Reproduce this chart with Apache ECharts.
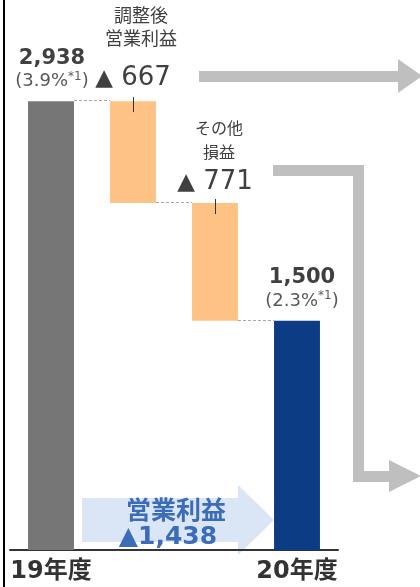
<!DOCTYPE html>
<html><head><meta charset="utf-8">
<script src="https://cdn.jsdelivr.net/npm/echarts@6/dist/echarts.min.js"></script>
<style>html,body{margin:0;padding:0;background:#fff}#c{width:420px;height:587px}</style>
</head><body><div id="c"></div>
<script>
// ---- data ----
const categories = ['19年度', '調整後営業利益', 'その他損益', '20年度'];
const axisLabels = ['19年度', '', '', '20年度'];
const startValue = 2938;
const stepChanges = [-667, -771];
const endValue = 1500;
const startMargin = '3.9%';
const endMargin = '2.3%';
const stepTitles = [['調整後', '営業利益'], ['その他', '損益']];
const summaryTitle = '営業利益';
const summaryChange = -1438;

// ---- derived waterfall ----
const levels = [startValue];
stepChanges.forEach(c => levels.push(levels[levels.length - 1] + c));
const baseData = [0];
const barData = [startValue];
stepChanges.forEach((c, i) => { baseData.push(levels[i + 1]); barData.push(-c); });
baseData.push(0); barData.push(endValue);
const tops = [startValue].concat(levels.slice(0, stepChanges.length)).concat([endValue]);
const barColors = ['#767676', '#FFC285', '#FFC285', '#0C3C84'];

const fmt = v => Math.abs(v).toLocaleString('en-US');
const LAT = "'DejaVu Sans', 'Noto Sans CJK JP', sans-serif";
const CJK = "'Noto Sans CJK JP', sans-serif";

const chart = echarts.init(document.getElementById('c'), null, {renderer: 'canvas'});
chart.setOption({
  animation: false,
  backgroundColor: '#fff',
  grid: {left: 10, right: 82, top: 0, bottom: 37},
  xAxis: {
    type: 'category', data: categories,
    axisLine: {lineStyle: {color: '#333', width: 2}},
    axisTick: {show: false},
    axisLabel: {
      formatter: (v, i) => axisLabels[i], interval: 0, margin: 10,
      fontSize: 24, fontWeight: 'bold', color: '#333', fontFamily: LAT
    }
  },
  yAxis: {type: 'value', min: 0, max: 3600, show: false, splitLine: {show: false}},
  series: [
    {type: 'bar', stack: 'w', barWidth: '56%', data: baseData,
     itemStyle: {color: 'rgba(0,0,0,0)'}, silent: true, z: 2},
    {type: 'bar', stack: 'w', barWidth: '56%', z: 2,
     data: barData.map((v, i) => ({value: v, itemStyle: {color: barColors[i]}}))}
  ]
});

function px(i, v) { return chart.convertToPixel({xAxisIndex: 0, yAxisIndex: 0}, [i, v]); }
const band = px(1, 0)[0] - px(0, 0)[0];
const halfBar = band * 0.56 / 2;
const g = [];

// left frame line
g.push({type: 'line', shape: {x1: 4, y1: 0, x2: 4, y2: 587}, style: {stroke: '#000', lineWidth: 2}});

// connectors
for (let i = 0; i < categories.length - 1; i++) {
  const lvl = i === 0 ? startValue : levels[i];
  const a = px(i, lvl), b = px(i + 1, lvl);
  g.push({type: 'line', shape: {x1: a[0] + halfBar, y1: Math.round(a[1]) - 0.5, x2: b[0] - halfBar, y2: Math.round(a[1]) - 0.5},
    style: {stroke: '#A6A6A6', lineWidth: 1, lineDash: [3, 2]}});
}

// total labels
function totalLabel(i, val, margin, dx) {
  const p = px(i, val);
  g.push({type: 'text', x: p[0] + dx, y: p[1] - 43, z: 10,
    style: {text: fmt(val), font: 'bold 21px ' + LAT, fill: '#404040', align: 'center', verticalAlign: 'middle'}});
  g.push({type: 'text', x: p[0] + dx, y: p[1] - 20, z: 10,
    style: {text: '{p|(' + margin + '}{s|*1}{p|)}', align: 'center', verticalAlign: 'middle',
      rich: {p: {fontSize: 18, fontFamily: LAT, fill: '#595959', color: '#595959', lineHeight: 22},
             s: {fontSize: 12, fontFamily: LAT, fill: '#595959', color: '#595959', padding: [0, 0, 9, 0]}}}});
}
totalLabel(0, startValue, startMargin, 1);
totalLabel(3, endValue, endMargin, 5);

// step labels
const stepOffsets = [
  {dx: 0, num: -23, t1: -86, t2: -63, tdx: 8, tsize: 18},
  {dx: 0, num: -21, t1: -75, t2: -51, tdx: 4, tsize: 16}
];
stepChanges.forEach((c, k) => {
  const i = k + 1;
  const p = px(i, tops[i]);
  const o = stepOffsets[k];
  g.push({type: 'text', x: p[0] + o.dx, y: p[1] + o.num, z: 10,
    style: {text: '{t|▲}{n| ' + fmt(c) + '}', align: 'center', verticalAlign: 'middle',
      rich: {t: {fontSize: 23, fontFamily: LAT, color: '#404040', fill: '#404040', padding: [2, 0, 0, 0]},
             n: {fontSize: 26, fontFamily: LAT, color: '#404040', fill: '#404040'}}}});
  g.push({type: 'text', x: p[0] + o.tdx, y: p[1] + o.t1, z: 10,
    style: {text: stepTitles[k][0], font: o.tsize + 'px ' + CJK, fill: '#404040', align: 'center', verticalAlign: 'middle'}});
  g.push({type: 'text', x: p[0] + o.tdx, y: p[1] + o.t2, z: 10,
    style: {text: stepTitles[k][1], font: o.tsize + 'px ' + CJK, fill: '#404040', align: 'center', verticalAlign: 'middle'}});
  g.push({type: 'line', shape: {x1: Math.round(p[0]) + 0.5, y1: p[1] - 4, x2: Math.round(p[0]) + 0.5, y2: p[1] + 11},
    style: {stroke: '#333', lineWidth: 1}, z: 10});
});

// gray arrows
g.push({type: 'polygon', shape: {points: [[199,71],[398,71],[398,59],[422,76],[398,93],[398,82],[199,82]]},
  style: {fill: '#BFBFBF'}});
g.push({type: 'polygon', shape: {points: [[273,165],[364,165],[364,471],[389,471],[389,460],[421,476],[389,492],[389,482],[353,482],[353,176],[273,176]]},
  style: {fill: '#BFBFBF'}});

// summary arrow
g.push({type: 'polygon', z: -1, shape: {points: [[82,498],[238,498],[238,485],[274,520],[238,555],[238,542],[82,542]]},
  style: {fill: '#DAE5F5'}});
g.push({type: 'text', x: 176, y: 509, z: 10,
  style: {text: summaryTitle, font: 'bold 25px ' + CJK, fill: '#3B6CB7', align: 'center', verticalAlign: 'middle'}});
g.push({type: 'text', x: 168, y: 537, z: 10,
  style: {text: '▲' + fmt(summaryChange), font: 'bold 25px ' + LAT, fill: '#3B6CB7', align: 'center', verticalAlign: 'middle'}});

chart.setOption({graphic: {elements: g}});
</script>
</body></html>
